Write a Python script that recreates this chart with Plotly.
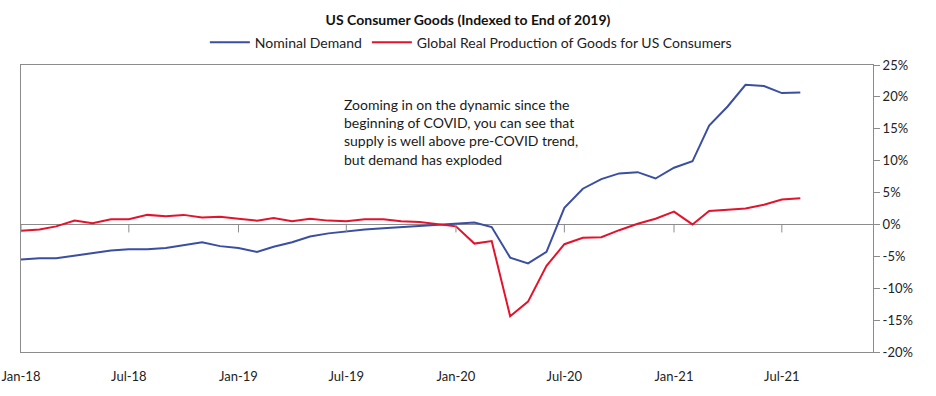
import pandas as pd
import plotly.graph_objects as go

months = pd.date_range("2018-01-01", periods=44, freq="MS")

nominal_demand = [
    -5.5, -5.3, -5.3, -4.9, -4.4, -4.1, -3.9, -3.9, -3.7, -3.3, -2.8, -3.4,
    -3.7, -4.3, -3.5, -2.8, -1.9, -1.4, -1.1, -0.8, -0.6, -0.4, -0.2, 0.0,
    0.2, 0.3, -0.4, -5.2, -6.1, -4.3, 2.6, 5.6, 7.1, 8.0, 8.2, 7.2,
    8.9, 9.9, 15.5, 18.5, 21.9, 21.7, 20.6, 20.7,
]
global_production = [
    -1.0, -0.8, -0.3, 0.6, 0.2, 0.8, 0.8, 1.5, 1.3, 1.5, 1.1, 1.2,
    0.9, 0.6, 1.0, 0.5, 0.9, 0.6, 0.5, 0.8, 0.8, 0.5, 0.4, 0.1,
    -0.3, -3.0, -2.6, -14.4, -12.1, -6.5, -3.1, -2.1, -2.0, -0.9, 0.1, 0.9,
    2.0, 0.0, 2.1, 2.3, 2.5, 3.1, 3.9, 4.1,
]

x_tick_vals = ["2018-01-01", "2018-07-01", "2019-01-01", "2019-07-01",
               "2020-01-01", "2020-07-01", "2021-01-01", "2021-07-01"]
x_tick_text = ["Jan-18", "Jul-18", "Jan-19", "Jul-19",
               "Jan-20", "Jul-20", "Jan-21", "Jul-21"]
y_tick_vals = [-20, -15, -10, -5, 0, 5, 10, 15, 20, 25]
y_tick_text = ["-20%", "-15%", "-10%", "-5%", "0%", "5%", "10%", "15%", "20%", "25%"]

title_text = "US Consumer Goods (Indexed to End of 2019)"
note_text = ("Zooming in on the dynamic since the<br>beginning of COVID, you can see that"
             "<br>supply is well above pre-COVID trend,<br>but demand has exploded")

BLUE = "#3a4ea2"
RED = "#e3132c"
GRAY = "#8c8c8c"
LABEL_FONT = "Lato, sans-serif"

fig = go.Figure()
fig.add_trace(go.Scatter(x=months, y=nominal_demand, mode="lines",
                         name="Nominal Demand", line=dict(color=BLUE, width=2)))
fig.add_trace(go.Scatter(x=months, y=global_production, mode="lines",
                         name="Global Real Production of Goods for US Consumers",
                         line=dict(color=RED, width=2)))

# small tick marks hanging from the zero line at each labelled month
for tv in x_tick_vals:
    fig.add_shape(type="line", xref="x", yref="y", x0=tv, x1=tv,
                  ysizemode="pixel", yanchor=0, y0=0, y1=-8,
                  line=dict(color=GRAY, width=1))

fig.add_annotation(text=note_text, xref="paper", yref="paper",
                   x=0.377, y=0.90, xanchor="left", yanchor="top",
                   align="left", showarrow=False,
                   font=dict(family="Lato, sans-serif", size=14, color="#1a1a1a"))

fig.update_layout(
    width=936, height=396,
    margin=dict(l=21, r=63, t=65, b=44, autoexpand=False),
    paper_bgcolor="white", plot_bgcolor="white",
    title=dict(text="<b>" + title_text + "</b>", x=0.5, xref="container",
               y=0.9495, yanchor="middle",
               font=dict(family=LABEL_FONT, size=14, color="#111")),
    legend=dict(orientation="h", x=0.528, xanchor="center", y=1.078, yanchor="middle",
                font=dict(family=LABEL_FONT, size=14, color="#222"),
                bgcolor="rgba(0,0,0,0)", itemwidth=40, tracegroupgap=0),
    font=dict(family=LABEL_FONT, size=14, color="#222"),
    showlegend=True,
)

fig.update_xaxes(type="date", range=["2018-01-01", "2021-12-01"],
                 tickvals=x_tick_vals, ticktext=x_tick_text, automargin=False,
                 ticklabeloverflow="allow",
                 ticks="", ticklabelstandoff=12, showgrid=False, zeroline=False,
                 showline=True, mirror=True, linecolor=GRAY, linewidth=1,
                 tickfont=dict(family=LABEL_FONT, size=13, color="#222"))
fig.update_yaxes(range=[-20, 25], side="right", automargin=False,
                 tickvals=y_tick_vals, ticktext=y_tick_text,
                 ticks="outside", ticklen=6, tickcolor=GRAY,
                 showgrid=False, zeroline=True, zerolinecolor=GRAY, zerolinewidth=1,
                 showline=True, mirror=True, linecolor=GRAY, linewidth=1,
                 tickfont=dict(family=LABEL_FONT, size=13, color="#222"))

# remove the browser's default 8px page margin so the figure fills the window
fig.write_html("out.html", config={"displayModeBar": False},
               post_script="document.body.style.margin='0';document.body.style.overflow='hidden';")
